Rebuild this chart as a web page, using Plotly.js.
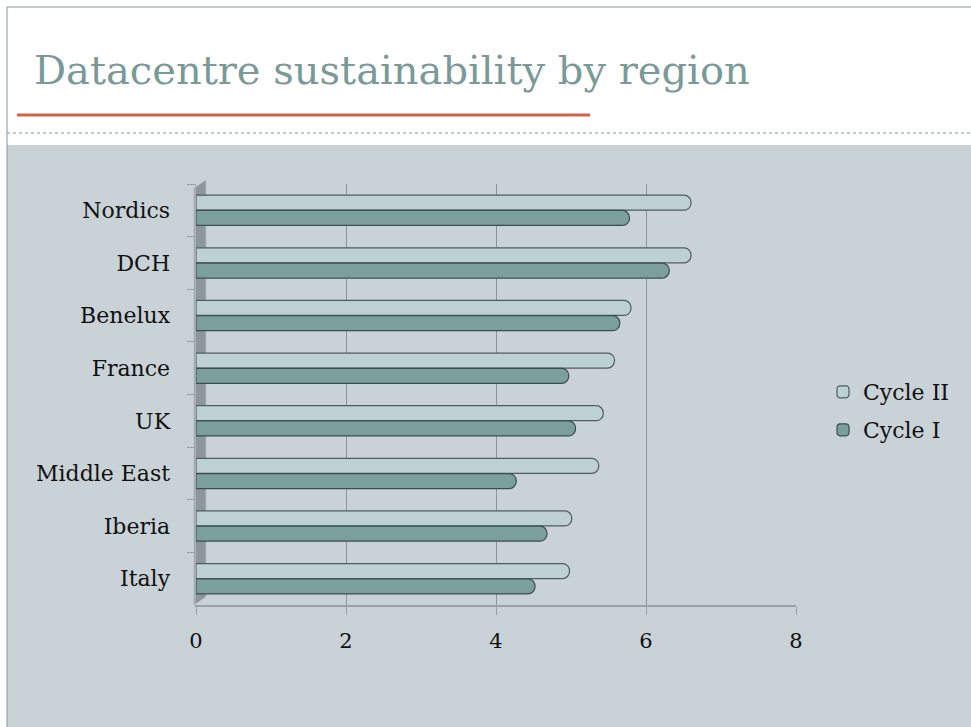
<!DOCTYPE html>
<html>
<head>
<meta charset="utf-8">
<script src="https://cdn.plot.ly/plotly-3.0.1.min.js"></script>
<style>html,body{margin:0;padding:0;background:#fff;}#chart{width:971px;height:727px;}</style>
</head>
<body>
<div id="chart"></div>
<script>
const categories = ['Nordics', 'DCH', 'Benelux', 'France', 'UK', 'Middle East', 'Iberia', 'Italy'];
const cycle2 = [6.6, 6.6, 5.8, 5.58, 5.43, 5.37, 5.01, 4.98];
const cycle1 = [5.78, 6.31, 5.65, 4.97, 5.06, 4.27, 4.68, 4.52];
const xTicks = [0, 2, 4, 6, 8];
const seriesNames = ['Cycle II', 'Cycle I'];
const titleText = 'Datacentre sustainability by region';

const W = 971, H = 727, L = 196, R = 796, T = 184, B = 605;
const px = x => (x - L) / (R - L);
const py = y => (B - y) / (B - T);
const serif = 'DejaVu Serif, Liberation Serif, serif';

const traces = [
  {type: 'bar', orientation: 'h', name: seriesNames[0], y: categories, x: cycle2,
   marker: {color: '#bdd1d3', line: {color: '#4f5d5e', width: 1.2}, cornerradius: 7},
   legend: 'legend', hoverinfo: 'x+y'},
  {type: 'bar', orientation: 'h', name: seriesNames[1], y: categories, x: cycle1,
   marker: {color: '#7a9f9d', line: {color: '#3f4d4e', width: 1.2}, cornerradius: 7},
   legend: 'legend2', hoverinfo: 'x+y'}
];

const edge = '#7f9c9e';
const layout = {
  width: W, height: H,
  margin: {l: L, r: W - R, t: T, b: H - B, pad: 0},
  paper_bgcolor: '#ffffff',
  plot_bgcolor: 'rgba(0,0,0,0)',
  barmode: 'group',
  bargap: 0.42,
  bargroupgap: 0.02,
  title: {text: titleText, x: 34 / W, xanchor: 'left', xref: 'container',
          y: 1 - 70 / H, yref: 'container', yanchor: 'middle',
          font: {family: serif, size: 40, color: '#7a9a98'}},
  xaxis: {range: [0, 8], tickvals: xTicks, ticktext: xTicks.map(String),
          showgrid: true, gridcolor: '#8e9599', gridwidth: 1, zeroline: false,
          showline: true, linecolor: '#9aa2a6', linewidth: 1.5,
          ticks: 'outside', ticklen: 8, tickcolor: '#9aa2a6',
          ticklabelstandoff: 8,
          tickfont: {family: serif, size: 21, color: '#111'}, fixedrange: true},
  yaxis: {type: 'category', autorange: 'reversed', tickson: 'boundaries',
          ticks: 'outside', ticklen: 8, tickcolor: '#9aa2a6',
          showline: true, linecolor: '#a8b0b3', linewidth: 1.5,
          showgrid: false, ticklabelstandoff: 20,
          tickfont: {family: serif, size: 22, color: '#111'}, fixedrange: true},
  legend: {x: px(823), y: py(392), xanchor: 'left', yanchor: 'middle',
           bgcolor: 'rgba(0,0,0,0)', font: {family: serif, size: 22, color: '#111'}},
  legend2: {x: px(823), y: py(430), xanchor: 'left', yanchor: 'middle',
            bgcolor: 'rgba(0,0,0,0)', font: {family: serif, size: 22, color: '#111'}},
  shapes: [
    {type: 'rect', xref: 'paper', yref: 'paper', x0: px(7), x1: px(975), y0: py(145), y1: py(730),
     fillcolor: '#c8d2d7', line: {width: 0}, layer: 'below'},
    {type: 'line', xref: 'paper', yref: 'paper', x0: px(7), x1: px(975), y0: py(7), y1: py(7),
     line: {color: edge, width: 1}, layer: 'below'},
    {type: 'line', xref: 'paper', yref: 'paper', x0: px(7), x1: px(7), y0: py(7), y1: py(730),
     line: {color: edge, width: 1}, layer: 'below'},
    {type: 'line', xref: 'paper', yref: 'paper', x0: px(7), x1: px(975), y0: py(133), y1: py(133),
     line: {color: edge, width: 1, dash: 'dot'}, layer: 'below'},
    {type: 'line', xref: 'paper', yref: 'paper', x0: px(17), x1: px(590), y0: py(115), y1: py(115),
     line: {color: '#d0654a', width: 3}, layer: 'below'},
    {type: 'path', xref: 'paper', yref: 'paper',
     path: `M ${px(194)} ${py(605)} L ${px(194)} ${py(188)} L ${px(206)} ${py(180)} L ${px(206)} ${py(597)} Z`,
     fillcolor: '#8c969b', line: {color: '#b4bcbf', width: 1}, layer: 'below'}
  ],
  showlegend: true
};

Plotly.newPlot('chart', traces, layout, {displayModeBar: false, staticPlot: true});
</script>
</body>
</html>
